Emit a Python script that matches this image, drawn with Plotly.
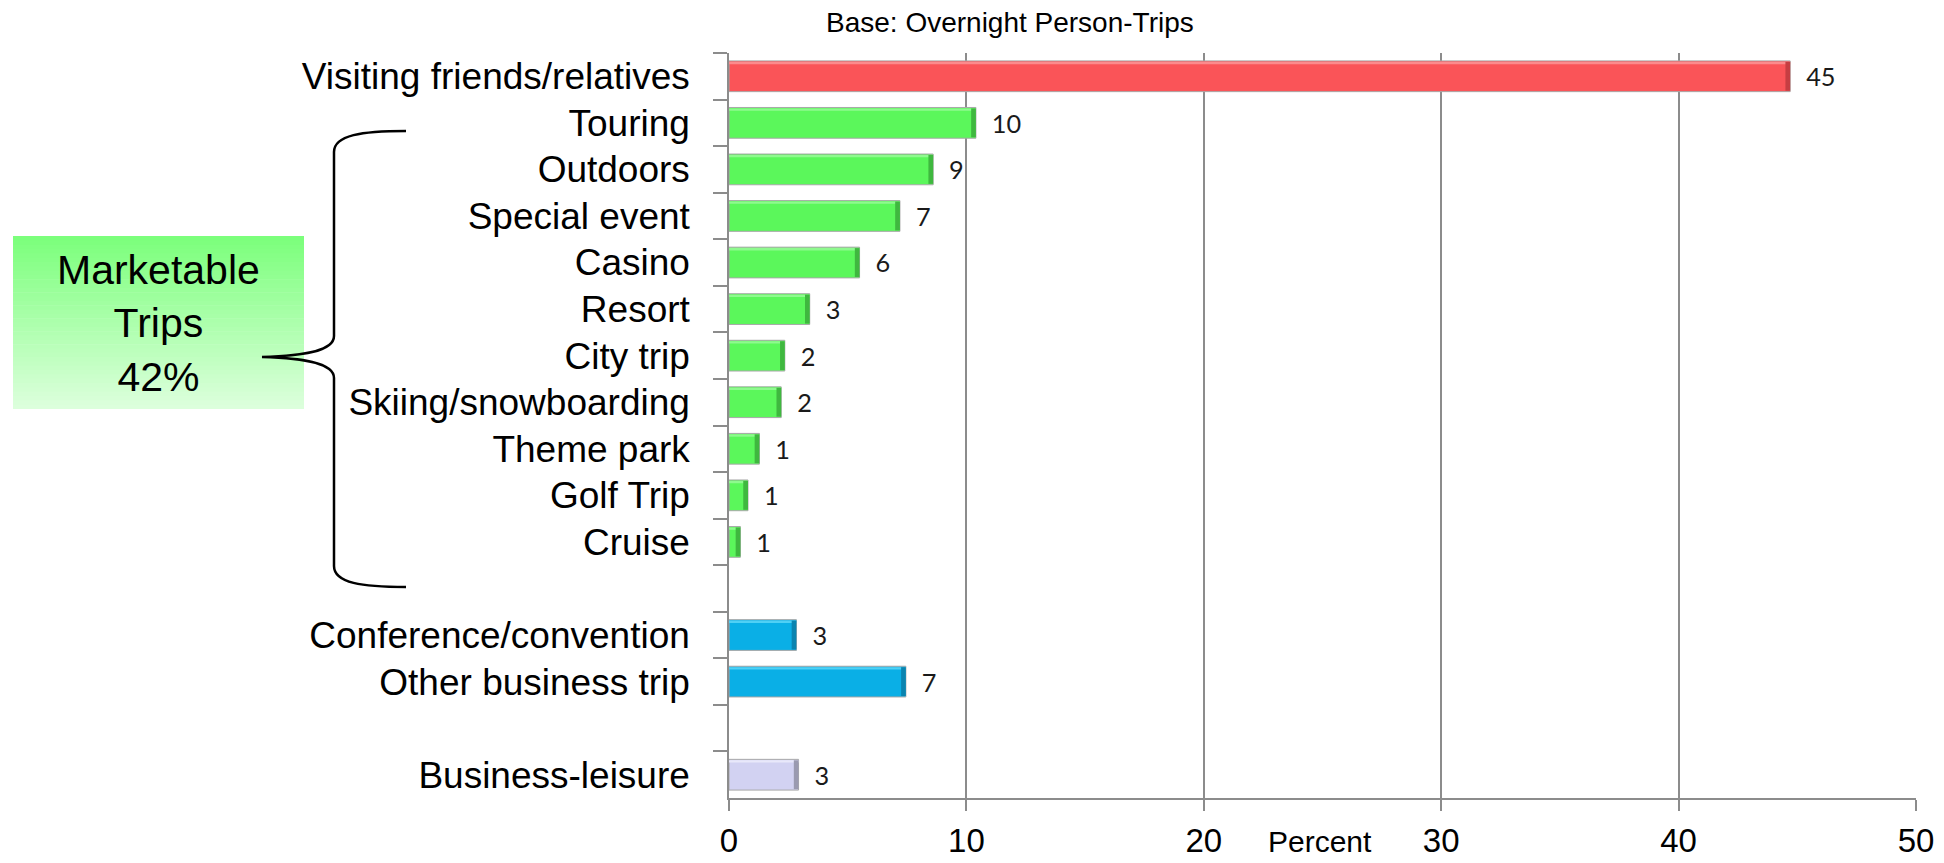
import plotly.graph_objects as go

# Trip purposes, top to bottom ("" slots are the empty gaps in the chart)
CATEGORIES = [
    "Visiting friends/relatives",
    "Touring",
    "Outdoors",
    "Special event",
    "Casino",
    "Resort",
    "City trip",
    "Skiing/snowboarding",
    "Theme park",
    "Golf Trip",
    "Cruise",
    " ",
    "Conference/convention",
    "Other business trip",
    "  ",
    "Business-leisure",
]

VFR = ["Visiting friends/relatives"]
VFR_PCT = [44.7]
VFR_LABELS = ["45"]

MARKETABLE = [
    "Touring",
    "Outdoors",
    "Special event",
    "Casino",
    "Resort",
    "City trip",
    "Skiing/snowboarding",
    "Theme park",
    "Golf Trip",
    "Cruise",
]
MARKETABLE_PCT = [10.4, 8.6, 7.2, 5.5, 3.4, 2.35, 2.2, 1.28, 0.8, 0.48]
MARKETABLE_LABELS = ["10", "9", "7", "6", "3", "2", "2", "1", "1", "1"]

BUSINESS = ["Conference/convention", "Other business trip"]
BUSINESS_PCT = [2.84, 7.45]
BUSINESS_LABELS = ["3", "7"]

BLEISURE = ["Business-leisure"]
BLEISURE_PCT = [2.93]
BLEISURE_LABELS = ["3"]

X_TICKS = [0, 10, 20, 30, 40, 50]

W, H = 1944, 863
# plot area in pixels
PX_L, PX_R, PX_T, PX_B = 729, 1916, 53, 798

FONT = "Liberation Sans, Arial, sans-serif"
BAR_W = 0.66
CAP = 0.2  # width of the darker bevel at the bar end, in percent units


def px(x):
    return (x - PX_L) / (PX_R - PX_L)


def py(y):
    return (PX_B - y) / (PX_B - PX_T)


def bars(names, values, labels, color, light, dark):
    """main bar + bevel highlight + darker end cap"""
    main = go.Bar(
        y=names,
        x=values,
        orientation="h",
        text=labels,
        texttemplate="  %{text}",
        textposition="outside",
        textfont=dict(family="Lato, Noto Sans, sans-serif", size=28, color="#1a1a1a"),
        cliponaxis=False,
        marker=dict(color=color, line=dict(color="#A8A8A8", width=1)),
        width=BAR_W,
        hoverinfo="skip",
        showlegend=False,
    )
    top = go.Bar(
        y=names,
        x=values,
        orientation="h",
        marker=dict(color=light, line=dict(width=0)),
        width=0.05,
        offset=-BAR_W / 2 + 0.02,
        hoverinfo="skip",
        showlegend=False,
    )
    cap = go.Bar(
        y=names,
        x=[min(CAP, v) for v in values],
        base=[v - min(CAP, v) for v in values],
        orientation="h",
        marker=dict(color=dark, line=dict(width=0)),
        width=BAR_W - 0.04,
        hoverinfo="skip",
        showlegend=False,
    )
    return [main, top, cap]


fig = go.Figure()
for trs in (
    bars(VFR, VFR_PCT, VFR_LABELS, "#FA5458", "#FC8A8C", "#C63E42"),
    bars(MARKETABLE, MARKETABLE_PCT, MARKETABLE_LABELS, "#5BF75B", "#8EFA8E", "#3FB83F"),
    bars(BUSINESS, BUSINESS_PCT, BUSINESS_LABELS, "#0AAFE6", "#4FD0F5", "#0A84B0"),
    bars(BLEISURE, BLEISURE_PCT, BLEISURE_LABELS, "#D2D2F2", "#E8E8FA", "#9A9AB0"),
):
    fig.add_traces(trs)

shapes = []

# gradient box behind "Marketable Trips 42%"
box_l, box_r, box_t, box_b = 13, 304, 236, 409
top_rgb = (0x7C, 0xFF, 0x7C)
bot_rgb = (0xDC, 0xFF, 0xDC)
n = 40
for i in range(n):
    f = i / (n - 1)
    c = tuple(round(a + (b - a) * f) for a, b in zip(top_rgb, bot_rgb))
    y0 = box_t + (box_b - box_t) * i / n
    y1 = box_t + (box_b - box_t) * (i + 1) / n + 0.6
    shapes.append(dict(
        type="rect", xref="paper", yref="paper",
        x0=px(box_l), x1=px(box_r), y0=py(min(y1, box_b)), y1=py(y0),
        fillcolor="rgb(%d,%d,%d)" % c, line=dict(width=0), layer="below",
    ))

# curly brace
pts = [
    ("M", [(406, 131)]),
    ("C", [(362, 131), (334, 135), (334, 152)]),
    ("L", [(334, 336)]),
    ("C", [(334, 352), (300, 356), (262, 357)]),
    ("C", [(300, 358), (334, 362), (334, 378)]),
    ("L", [(334, 566)]),
    ("C", [(334, 583), (362, 587), (406, 587)]),
]
path = " ".join(
    cmd + " " + " ".join("%.5f,%.5f" % (px(x), py(y)) for x, y in p) for cmd, p in pts
)
shapes.append(dict(type="path", xref="paper", yref="paper", path=path,
                   line=dict(color="black", width=2.5)))

annotations = [
    dict(text="Marketable<br>Trips<br>42%", x=px(158), y=py(323),
         font=dict(family=FONT, size=41, color="black"), align="center"),
    dict(text="Base: Overnight Person-Trips", x=px(1010), y=py(22),
         font=dict(family=FONT, size=28, color="black")),
    dict(text="Percent", x=px(1320), y=py(841),
         font=dict(family=FONT, size=30, color="black")),
]
for a in annotations:
    a.update(xref="paper", yref="paper", showarrow=False, xanchor="center", yanchor="middle")

fig.update_layout(
    width=W,
    height=H,
    margin=dict(l=PX_L, r=W - PX_R, t=PX_T, b=H - PX_B),
    plot_bgcolor="white",
    paper_bgcolor="white",
    barmode="overlay",
    shapes=shapes,
    annotations=annotations,
    font=dict(family=FONT, color="black"),
)
fig.update_xaxes(
    range=[0, 50],
    tickvals=X_TICKS,
    showgrid=True,
    gridcolor="#8C8C8C",
    gridwidth=1.5,
    zeroline=False,
    showline=True,
    linecolor="#8C8C8C",
    linewidth=1.5,
    ticks="outside",
    ticklen=11,
    tickcolor="#8C8C8C",
    tickwidth=1.5,
    tickfont=dict(family=FONT, size=33, color="black"),
    ticklabelstandoff=2,
    automargin=False,
)
fig.update_yaxes(
    type="category",
    categoryorder="array",
    categoryarray=CATEGORIES,
    autorange="reversed",
    tickson="boundaries",
    ticks="outside",
    ticklen=14,
    tickcolor="#8C8C8C",
    tickwidth=1.5,
    showline=True,
    linecolor="#8C8C8C",
    linewidth=1.5,
    showgrid=False,
    tickfont=dict(family=FONT, size=37, color="black"),
    ticklabelstandoff=30,
    automargin=False,
)

# drop the default page margin so the figure fills the window exactly
fig.write_html(
    "out.html",
    config={"displayModeBar": False},
    post_script="document.body.style.margin='0px';",
)
